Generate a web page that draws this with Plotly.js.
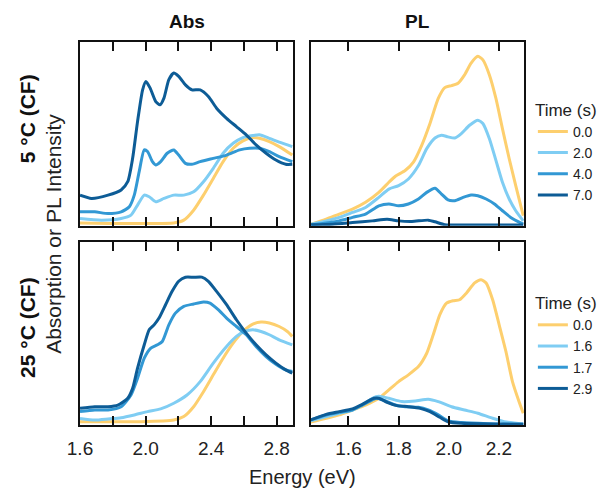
<!DOCTYPE html>
<html>
<head>
<meta charset="utf-8">
<script src="https://cdn.plot.ly/plotly-3.0.1.min.js"></script>
<style>html,body{margin:0;padding:0;background:#fff;}#chart{width:611px;height:491px;}</style>
</head>
<body>
<div id="chart"></div>
<script>
// ---------- Data ----------
// Legend labels (Time, s)
const times5 = ['0.0', '2.0', '4.0', '7.0'];
const times25 = ['0.0', '1.6', '1.7', '2.9'];

// 5 °C Abs
const abs5_t0_E = [1.600,1.771,1.982,2.172,2.233,2.293,2.353,2.413,2.473,2.534,2.594,2.654,2.694,2.755,2.815,2.895];
const abs5_t0_y = [0.016,0.013,0.013,0.016,0.031,0.085,0.167,0.258,0.349,0.422,0.462,0.48,0.476,0.458,0.431,0.385];
const abs5_t1_E = [1.600,1.731,1.851,1.911,1.951,1.992,2.022,2.062,2.112,2.172,2.233,2.293,2.353,2.413,2.473,2.534,2.594,2.654,2.694,2.755,2.815,2.895];
const abs5_t1_y = [0.04,0.031,0.04,0.058,0.113,0.167,0.158,0.131,0.149,0.167,0.167,0.185,0.24,0.313,0.395,0.449,0.48,0.491,0.495,0.476,0.455,0.431];
const abs5_t2_E = [1.600,1.690,1.771,1.851,1.901,1.931,1.961,1.992,2.012,2.042,2.062,2.092,2.132,2.172,2.202,2.243,2.283,2.333,2.413,2.494,2.574,2.634,2.694,2.755,2.815,2.895];
const abs5_t2_y = [0.076,0.076,0.067,0.076,0.104,0.167,0.295,0.413,0.404,0.349,0.331,0.349,0.395,0.413,0.385,0.34,0.335,0.349,0.367,0.385,0.413,0.422,0.422,0.404,0.376,0.349];
const abs5_t3_E = [1.600,1.670,1.771,1.851,1.891,1.921,1.951,1.982,2.002,2.028,2.062,2.088,2.112,2.142,2.172,2.202,2.243,2.283,2.333,2.383,2.433,2.494,2.554,2.614,2.674,2.735,2.795,2.855,2.895];
const abs5_t3_y = [0.167,0.149,0.167,0.195,0.24,0.367,0.567,0.74,0.785,0.749,0.676,0.658,0.695,0.795,0.831,0.813,0.767,0.74,0.74,0.704,0.64,0.585,0.54,0.495,0.44,0.395,0.358,0.335,0.335];

// 5 °C PL
const pl5_t0_E = [1.451,1.511,1.563,1.616,1.668,1.721,1.761,1.787,1.826,1.859,1.892,1.925,1.958,1.984,2.011,2.037,2.063,2.089,2.116,2.136,2.162,2.188,2.214,2.241,2.267,2.297];
const pl5_t0_y = [0.009,0.036,0.064,0.091,0.128,0.182,0.237,0.27,0.301,0.347,0.438,0.557,0.693,0.752,0.763,0.776,0.821,0.885,0.922,0.903,0.821,0.693,0.529,0.365,0.219,0.055];
const pl5_t1_E = [1.451,1.511,1.563,1.616,1.668,1.721,1.761,1.800,1.839,1.879,1.912,1.945,1.971,1.997,2.024,2.050,2.083,2.116,2.136,2.162,2.188,2.214,2.241,2.267,2.297];
const pl5_t1_y = [0.009,0.027,0.046,0.073,0.1,0.155,0.2,0.219,0.255,0.328,0.42,0.478,0.493,0.484,0.478,0.502,0.547,0.575,0.557,0.474,0.356,0.237,0.146,0.082,0.027];
const pl5_t2_E = [1.451,1.511,1.563,1.616,1.668,1.721,1.761,1.800,1.839,1.879,1.912,1.945,1.971,1.997,2.024,2.057,2.089,2.116,2.149,2.182,2.214,2.247,2.297];
const pl5_t2_y = [0.005,0.015,0.027,0.046,0.064,0.109,0.119,0.109,0.119,0.146,0.182,0.204,0.173,0.141,0.137,0.155,0.168,0.164,0.146,0.119,0.082,0.046,0.009];
const pl5_t3_E = [1.451,1.537,1.616,1.695,1.754,1.800,1.853,1.918,1.945,1.984,2.024,2.089,2.297];
const pl5_t3_y = [0.006,0.009,0.018,0.027,0.036,0.027,0.024,0.031,0.022,0.006,0.005,0.005,0.005];

// 25 °C Abs
const abs25_t0_E = [1.600,1.771,1.971,2.172,2.233,2.293,2.353,2.413,2.473,2.534,2.594,2.654,2.704,2.755,2.815,2.865,2.895];
const abs25_t0_y = [0.018,0.018,0.018,0.027,0.046,0.1,0.182,0.274,0.365,0.447,0.511,0.551,0.562,0.557,0.538,0.511,0.484];
const abs25_t1_E = [1.600,1.690,1.771,1.851,1.931,2.012,2.092,2.172,2.253,2.333,2.413,2.494,2.554,2.604,2.654,2.704,2.755,2.815,2.895];
const abs25_t1_y = [0.036,0.027,0.033,0.04,0.055,0.073,0.088,0.119,0.164,0.237,0.338,0.429,0.484,0.511,0.52,0.511,0.493,0.465,0.438];
const abs25_t2_E = [1.600,1.690,1.771,1.851,1.911,1.951,1.992,2.032,2.072,2.102,2.142,2.182,2.233,2.293,2.353,2.393,2.443,2.494,2.554,2.614,2.674,2.735,2.795,2.855,2.895];
const abs25_t2_y = [0.073,0.082,0.082,0.1,0.164,0.255,0.365,0.42,0.438,0.456,0.547,0.611,0.648,0.661,0.672,0.666,0.63,0.584,0.538,0.493,0.429,0.374,0.332,0.301,0.292];
const abs25_t3_E = [1.600,1.690,1.771,1.831,1.891,1.921,1.951,1.992,2.022,2.052,2.082,2.122,2.162,2.202,2.243,2.293,2.343,2.383,2.433,2.494,2.554,2.614,2.674,2.735,2.795,2.855,2.895];
const abs25_t3_y = [0.091,0.1,0.1,0.109,0.146,0.2,0.31,0.438,0.52,0.547,0.584,0.657,0.73,0.785,0.807,0.807,0.808,0.785,0.73,0.657,0.575,0.502,0.438,0.383,0.338,0.301,0.283];

// 25 °C PL
const pl25_t0_E = [1.447,1.511,1.563,1.616,1.668,1.721,1.761,1.800,1.839,1.879,1.912,1.938,1.964,1.991,2.017,2.043,2.070,2.103,2.129,2.149,2.175,2.201,2.228,2.254,2.280,2.297];
const pl25_t0_y = [0.015,0.036,0.055,0.082,0.109,0.146,0.192,0.237,0.274,0.319,0.392,0.493,0.602,0.666,0.679,0.684,0.72,0.776,0.794,0.776,0.684,0.547,0.401,0.237,0.128,0.064];
const pl25_t1_E = [1.447,1.511,1.563,1.616,1.655,1.695,1.721,1.761,1.813,1.866,1.918,1.958,2.011,2.063,2.116,2.168,2.221,2.297];
const pl25_t1_y = [0.022,0.046,0.064,0.082,0.109,0.146,0.157,0.146,0.128,0.131,0.141,0.128,0.1,0.082,0.064,0.04,0.018,0.005];
const pl25_t2_E = [1.447,1.511,1.563,1.616,1.655,1.695,1.714,1.747,1.787,1.826,1.879,1.918,1.958,1.997,2.050,2.155,2.297];
const pl25_t2_y = [0.027,0.055,0.069,0.082,0.109,0.137,0.146,0.131,0.109,0.1,0.097,0.082,0.055,0.022,0.013,0.007,0.004];
const pl25_t3_E = [1.447,1.511,1.563,1.616,1.655,1.701,1.721,1.754,1.793,1.839,1.886,1.925,1.964,1.997,2.050,2.297];
const pl25_t3_y = [0.027,0.058,0.073,0.088,0.113,0.146,0.146,0.124,0.106,0.1,0.091,0.073,0.042,0.018,0.009,0.004];

// Tick values / labels
const absTicks = [1.6,1.8,2.0,2.2,2.4,2.6,2.8];
const absTickText = ['1.6','','2.0','','2.4','','2.8'];
const plTicks = [1.6,1.8,2.0,2.2];
const plTickText = ['1.6','1.8','2.0','2.2'];

// ---------- Styling ----------
const colors = ['#FDCF6E', '#7FCDF3', '#3298D4', '#0D5C96'];
const FONT = 'Liberation Sans, Arial, Helvetica, sans-serif';
const LW = 3;

function tr(x, y, i, xa, ya, name, legend, show) {
  return {
    x: x, y: y, type: 'scatter', mode: 'lines',
    line: {color: colors[i], width: LW, shape: 'spline', smoothing: 0.6},
    xaxis: xa, yaxis: ya, name: name, legend: legend, showlegend: show,
    hoverinfo: 'skip'
  };
}

const data = [
  tr(abs5_t0_E, abs5_t0_y, 0, 'x', 'y', times5[0], 'legend', true),
  tr(abs5_t1_E, abs5_t1_y, 1, 'x', 'y', times5[1], 'legend', true),
  tr(abs5_t2_E, abs5_t2_y, 2, 'x', 'y', times5[2], 'legend', true),
  tr(abs5_t3_E, abs5_t3_y, 3, 'x', 'y', times5[3], 'legend', true),
  tr(pl5_t0_E, pl5_t0_y, 0, 'x2', 'y2', times5[0], 'legend', false),
  tr(pl5_t1_E, pl5_t1_y, 1, 'x2', 'y2', times5[1], 'legend', false),
  tr(pl5_t2_E, pl5_t2_y, 2, 'x2', 'y2', times5[2], 'legend', false),
  tr(pl5_t3_E, pl5_t3_y, 3, 'x2', 'y2', times5[3], 'legend', false),
  tr(abs25_t0_E, abs25_t0_y, 0, 'x3', 'y3', times25[0], 'legend2', true),
  tr(abs25_t1_E, abs25_t1_y, 1, 'x3', 'y3', times25[1], 'legend2', true),
  tr(abs25_t2_E, abs25_t2_y, 2, 'x3', 'y3', times25[2], 'legend2', true),
  tr(abs25_t3_E, abs25_t3_y, 3, 'x3', 'y3', times25[3], 'legend2', true),
  tr(pl25_t0_E, pl25_t0_y, 0, 'x4', 'y4', times25[0], 'legend2', false),
  tr(pl25_t1_E, pl25_t1_y, 1, 'x4', 'y4', times25[1], 'legend2', false),
  tr(pl25_t2_E, pl25_t2_y, 2, 'x4', 'y4', times25[2], 'legend2', false),
  tr(pl25_t3_E, pl25_t3_y, 3, 'x4', 'y4', times25[3], 'legend2', false)
];

function xax(domain, range, vals, text, anchor, labels) {
  return {
    domain: domain, range: range, anchor: anchor,
    tickmode: 'array', tickvals: vals, ticktext: text,
    ticks: 'inside', ticklen: 9, tickwidth: 2, tickcolor: '#111',
    showline: true, linecolor: '#111', linewidth: 2, mirror: 'ticks',
    showgrid: false, zeroline: false, showticklabels: labels,
    ticklabelstandoff: 5,
    tickfont: {family: FONT, size: 19, color: '#222'}
  };
}
function yax(domain, anchor) {
  return {
    domain: domain, range: [0, 1], anchor: anchor,
    showline: true, linecolor: '#111', linewidth: 2, mirror: true,
    ticks: '', showticklabels: false, showgrid: false, zeroline: false
  };
}

const legendCommon = {
  xref: 'paper', yref: 'paper', xanchor: 'left', yanchor: 'top',
  bgcolor: 'rgba(0,0,0,0)', borderwidth: 0,
  font: {family: FONT, size: 14, color: '#222'},
  title: {text: 'Time (s)', font: {family: FONT, size: 17, color: '#222'}},
  tracegroupgap: 0, itemwidth: 30
};

const layout = {
  width: 611, height: 491,
  margin: {l: 80, r: 83, t: 42, b: 66},
  paper_bgcolor: '#fff', plot_bgcolor: '#fff',
  font: {family: FONT},
  xaxis:  xax([0, 0.48], [1.6, 2.9], absTicks, absTickText, 'y', false),
  xaxis2: xax([0.52, 1], [1.45, 2.30], plTicks, plTickText, 'y2', false),
  xaxis3: xax([0, 0.48], [1.6, 2.9], absTicks, absTickText, 'y3', true),
  xaxis4: xax([0.52, 1], [1.45, 2.30], plTicks, plTickText, 'y4', true),
  yaxis:  yax([0.52, 1], 'x'),
  yaxis2: yax([0.52, 1], 'x2'),
  yaxis3: yax([0, 0.478], 'x3'),
  yaxis4: yax([0, 0.478], 'x4'),
  legend:  Object.assign({}, legendCommon, {x: 1.02, y: 0.865}),
  legend2: Object.assign({}, legendCommon, {x: 1.02, y: 0.36}),
  annotations: [
    {text: '<b>Abs</b>', xref: 'paper', yref: 'paper', x: 0.24, y: 1, xanchor: 'center', yanchor: 'bottom', yshift: 8, showarrow: false, font: {family: FONT, size: 19, color: '#111'}},
    {text: '<b>PL</b>', xref: 'paper', yref: 'paper', x: 0.76, y: 1, xanchor: 'center', yanchor: 'bottom', yshift: 8, showarrow: false, font: {family: FONT, size: 19, color: '#111'}},
    {text: '<b>5 °C (CF)</b>', xref: 'paper', yref: 'paper', x: -0.118, y: 0.80, xanchor: 'center', yanchor: 'middle', textangle: -90, showarrow: false, font: {family: FONT, size: 21, color: '#111'}},
    {text: '<b>25 °C (CF)</b>', xref: 'paper', yref: 'paper', x: -0.118, y: 0.255, xanchor: 'center', yanchor: 'middle', textangle: -90, showarrow: false, font: {family: FONT, size: 21, color: '#111'}},
    {text: 'Absorption or PL Intensity', xref: 'paper', yref: 'paper', x: -0.06, y: 0.50, xanchor: 'center', yanchor: 'middle', textangle: -90, showarrow: false, font: {family: FONT, size: 21, color: '#222'}},
    {text: 'Energy (eV)', xref: 'paper', yref: 'paper', x: 0.5, y: -0.137, xanchor: 'center', yanchor: 'middle', showarrow: false, font: {family: FONT, size: 20, color: '#222'}}
  ]
};

Plotly.newPlot('chart', data, layout, {displayModeBar: false, staticPlot: true});
</script>
</body>
</html>
